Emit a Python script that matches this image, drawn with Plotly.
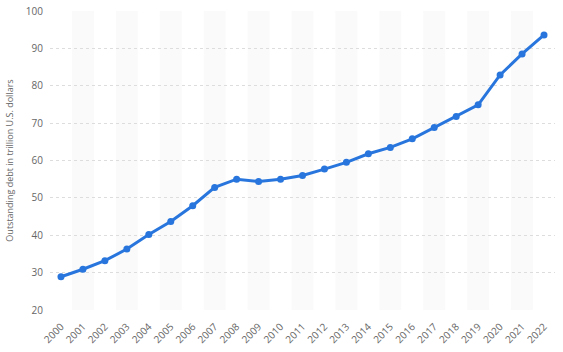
import plotly.graph_objects as go

years = [str(y) for y in range(2000, 2023)]
debt = [28.9, 30.9, 33.2, 36.3, 40.2, 43.7, 47.9, 52.8, 55.0, 54.4, 55.0, 56.0,
        57.7, 59.5, 61.8, 63.5, 65.8, 68.8, 71.8, 74.9, 82.9, 88.5, 93.6]
y_ticks = [20, 30, 40, 50, 60, 70, 80, 90, 100]

fig = go.Figure()

shapes = []
for i, yr in enumerate(years):
    if i % 2 == 1:
        shapes.append(dict(type="rect", xref="x", yref="paper", x0=i - 0.5, x1=i + 0.5,
                           y0=0, y1=1, fillcolor="#fafafa", line=dict(width=0), layer="below"))

fig.add_trace(go.Scatter(
    x=years, y=debt, mode="lines+markers",
    line=dict(color="#2876dd", width=3),
    marker=dict(color="#2876dd", size=7),
    hoverinfo="x+y",
))

fig.update_layout(
    width=563, height=352,
    margin=dict(l=50, r=8, t=11, b=42),
    paper_bgcolor="white", plot_bgcolor="white",
    font=dict(family="Open Sans, Roboto, sans-serif", color="#666666", size=10),
    showlegend=False,
    shapes=shapes,
    xaxis=dict(type="category", range=[-0.5, len(years) - 0.5], tickangle=-45,
               showgrid=False, zeroline=False, showline=False,
               ticks="outside", ticklen=6, tickcolor="rgba(0,0,0,0)", automargin=False,
               tickfont=dict(size=10, color="#666666")),
    yaxis=dict(range=[20, 100], tickvals=y_ticks, showgrid=True, gridcolor="#dddddd",
               griddash="dot", gridwidth=1, zeroline=False, showline=False,
               ticks="outside", ticklen=4, tickcolor="rgba(0,0,0,0)", automargin=False,
               tickfont=dict(size=10, color="#666666"),
               title=dict(text="Outstanding debt in trillion U.S. dollars",
                          font=dict(size=9, color="#666666"), standoff=10)),
)

fig.write_html("out.html")
